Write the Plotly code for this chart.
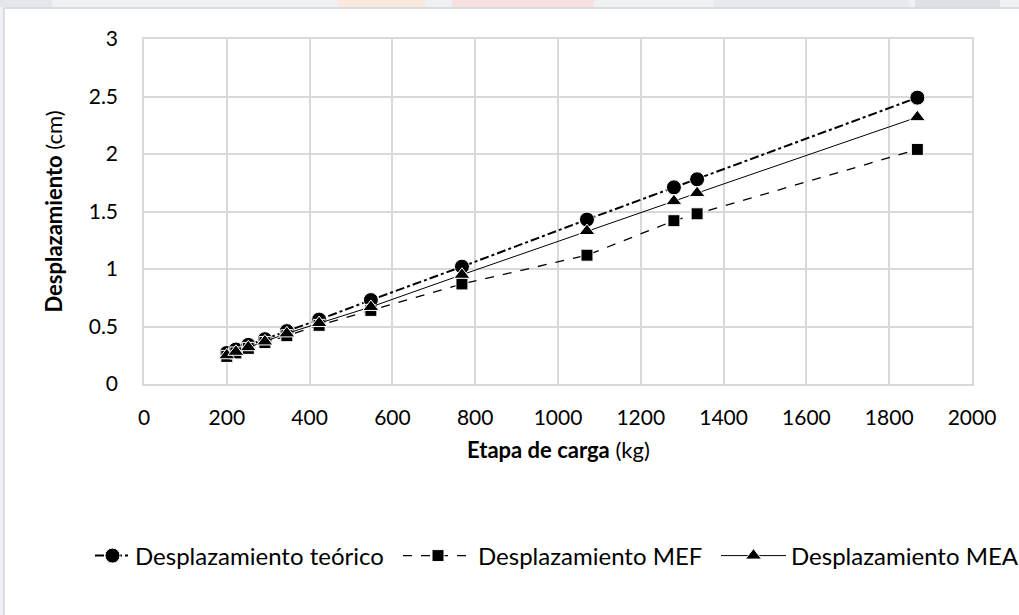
import plotly.graph_objects as go

carga_kg = [200, 222, 252, 292, 345, 423, 548, 768, 1070, 1280, 1336, 1868]
desp_teorico = [0.27, 0.30, 0.34, 0.39, 0.46, 0.56, 0.73, 1.02, 1.43, 1.71, 1.78, 2.49]
desp_mef = [0.24, 0.27, 0.31, 0.36, 0.42, 0.51, 0.64, 0.87, 1.12, 1.42, 1.48, 2.04]
desp_mea = [0.25, 0.28, 0.32, 0.37, 0.44, 0.53, 0.67, 0.95, 1.33, 1.59, 1.66, 2.32]

x_ticks = list(range(0, 2001, 200))
y_ticks = [0, 0.5, 1, 1.5, 2, 2.5, 3]
y_labels = ["0", "0.5", "1", "1.5", "2", "2.5", "3"]

FONT = "Lato, 'Open Sans', sans-serif"


def px_x(p):
    return (p - 144) / 828


def px_y(p):
    return 1 + (39 - p) / 345


fig = go.Figure()
fig.add_trace(go.Scatter(
    x=carga_kg, y=desp_teorico, name="Desplazamiento teórico",
    mode="lines+markers", legend="legend",
    line=dict(color="black", width=2, dash="dashdot"),
    marker=dict(symbol="circle", size=15, color="black", line=dict(color="white", width=1)),
))
fig.add_trace(go.Scatter(
    x=carga_kg, y=desp_mef, name="Desplazamiento MEF",
    mode="lines+markers", legend="legend2",
    line=dict(color="black", width=1.3, dash="dash"),
    marker=dict(symbol="square", size=12, color="black", line=dict(color="white", width=1)),
))
fig.add_trace(go.Scatter(
    x=carga_kg, y=desp_mea, name="Desplazamiento MEA",
    mode="lines+markers", legend="legend3",
    line=dict(color="black", width=1),
    marker=dict(symbol="triangle-up", size=14, color="black", line=dict(color="white", width=1)),
))

shapes = [
    dict(type="rect", xref="paper", yref="paper",
         x0=px_x(4), x1=2, y0=-2, y1=px_y(8),
         fillcolor="white", line=dict(color="#d4d4d4", width=1.5), layer="below"),
]
for (a, b, col) in [(0, 52, "#e4e6ec"), (338, 425, "#fbeadc"), (452, 594, "#f7e0e0"),
                    (714, 909, "#e8e9ee"), (915, 1000, "#dfe0e6")]:
    shapes.append(dict(type="rect", xref="paper", yref="paper",
                       x0=px_x(a), x1=px_x(b), y0=px_y(7), y1=px_y(0),
                       fillcolor=col, line=dict(width=0), layer="below"))

leg_common = dict(orientation="h", xanchor="left", y=px_y(556), yanchor="middle",
                  font=dict(family=FONT, size=24, color="black"),
                  bgcolor="rgba(0,0,0,0)")

fig.update_layout(
    width=1019, height=615,
    margin=dict(l=144, r=47, t=39, b=231, autoexpand=False),
    paper_bgcolor="#eef0f4",
    plot_bgcolor="white",
    font=dict(family=FONT, size=21, color="black"),
    shapes=shapes,
    showlegend=True,
    legend=dict(x=px_x(90), itemwidth=35, **leg_common),
    legend2=dict(x=px_x(398), itemwidth=70, **leg_common),
    legend3=dict(x=px_x(716), itemwidth=65, **leg_common),
    annotations=[dict(text="<b>Etapa de carga</b> (kg)", xref="paper", yref="paper",
                      x=0.5, y=px_y(449), xanchor="center", yanchor="middle",
                      showarrow=False, font=dict(family=FONT, size=22, color="black"))],
    xaxis=dict(
        range=[0, 2000], tickvals=x_ticks, ticks="",
        showgrid=True, gridcolor="#d9d9d9", gridwidth=1.5,
        showline=True, linecolor="#d9d9d9", linewidth=1.5, mirror=True,
        zeroline=False, ticklabelstandoff=14,
        tickfont=dict(family=FONT, size=21),
    ),
    yaxis=dict(
        range=[0, 3], tickvals=y_ticks, ticktext=y_labels, ticks="",
        showgrid=True, gridcolor="#d9d9d9", gridwidth=1.5,
        showline=True, linecolor="#d9d9d9", linewidth=1.5, mirror=True,
        zeroline=False, ticklabelstandoff=20,
        tickfont=dict(family=FONT, size=21),
        title=dict(text="<b>Desplazamiento</b> (cm)", font=dict(family=FONT, size=22), standoff=20),
    ),
)

fig.write_html("out.html")
